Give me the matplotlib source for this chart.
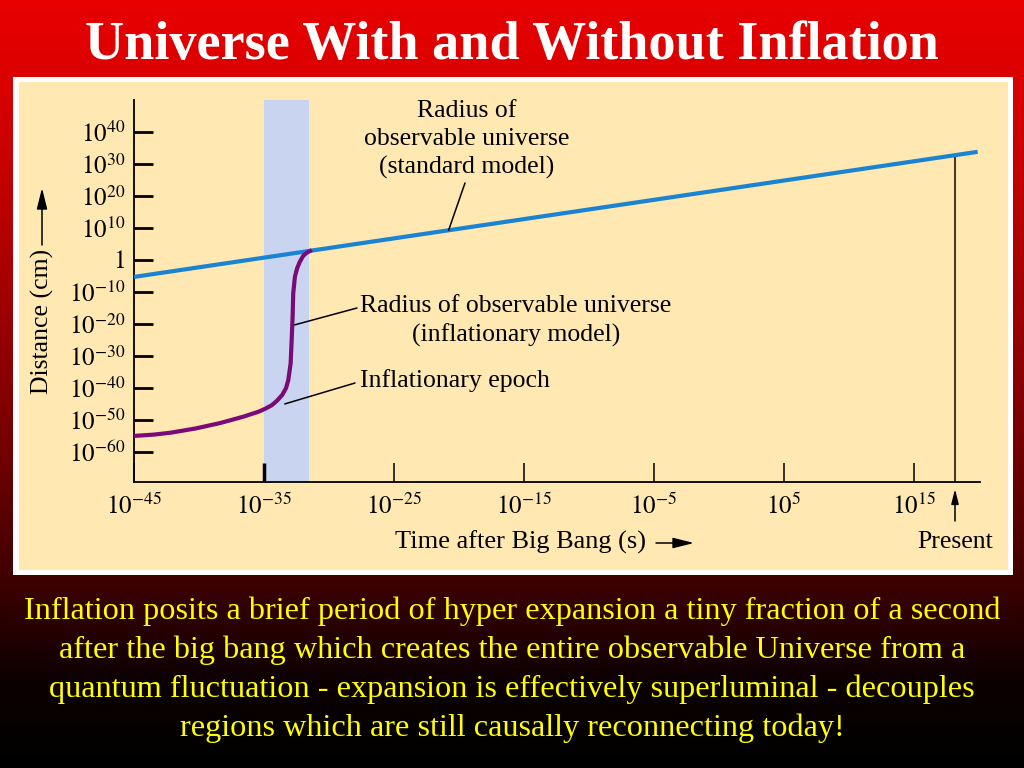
import numpy as np
import matplotlib
matplotlib.use("Agg")
import matplotlib.pyplot as plt
from matplotlib.patches import Rectangle, FancyArrowPatch

plt.rcParams['font.family'] = ['Liberation Serif', 'DejaVu Serif']
plt.rcParams['mathtext.fontset'] = 'stix'

# ---- data (log10 exponents) ----
std_t = [-45.0, 19.9]          # time exponent (s)
std_r = [-5.3, 33.8]           # radius exponent (cm)

infl_t = [-45.0, -43.5, -42.2, -40.3, -38.4, -36.6, -35.4, -34.9, -34.4, -34.0,
          -33.6, -33.3, -33.13, -32.95, -32.87, -32.79, -32.75, -32.62, -32.45,
          -32.25, -31.98, -31.7, -31.46]
infl_r = [-55.0, -54.6, -54.0, -52.7, -51.0, -49.0, -47.4, -46.5, -45.4, -44.0,
          -42.2, -40.0, -37.5, -32.3, -25.0, -16.7, -10.4, -5.2, -2.6,
          -0.6, 1.3, 2.3, 2.8]

epoch_t = [-35.0, -31.5]       # inflationary epoch band
present_t = 18.15

xtick_exp = [-45, -35, -25, -15, -5, 5, 15]
xtick_lab = ['$10^{-45}$', '$10^{-35}$', '$10^{-25}$', '$10^{-15}$',
             '$10^{-5}$', '$10^{5}$', '$10^{15}$']
ytick_exp = [40, 30, 20, 10, 0, -10, -20, -30, -40, -50, -60]
ytick_lab = ['$10^{40}$', '$10^{30}$', '$10^{20}$', '$10^{10}$', '$1$',
             '$10^{-10}$', '$10^{-20}$', '$10^{-30}$', '$10^{-40}$',
             '$10^{-50}$', '$10^{-60}$']

title = "Universe With and Without Inflation"
caption = ["Inflation posits a brief period of hyper expansion a tiny fraction of a second",
           "after the big bang which creates the entire observable Universe from a",
           "quantum fluctuation - expansion is effectively superluminal - decouples",
           "regions which are still causally reconnecting today!"]

W, H = 1024, 768
def px(x, y):
    return x / W, 1 - y / H

fig = plt.figure(figsize=(10.24, 7.68), dpi=100)

# background gradient red -> black
bg = fig.add_axes([0, 0, 1, 1], zorder=0)
rows = np.arange(H)
red = np.interp(rows, [0, 100, 250, 450, 580, 680, 768],
                [232, 215, 175, 115, 62, 12, 0]) / 255
grad = np.zeros((H, 2, 3))
grad[:, :, 0] = red[:, None]
bg.imshow(grad, aspect='auto', extent=[0, 1, 0, 1], origin='upper')
bg.axis('off')

# white framed cream panel
x0, y0 = px(13, 575)
fig.add_artist(Rectangle((x0, y0), 1000 / W, 498 / H, transform=fig.transFigure,
                         facecolor='white', edgecolor='none', zorder=1))
x0, y0 = px(19, 570)
fig.add_artist(Rectangle((x0, y0), 989 / W, 488 / H, transform=fig.transFigure,
                         facecolor='#FFE8B2', edgecolor='none', zorder=1))

fig.text(*px(512, 59), title, color='white', fontsize=39, fontweight='bold',
         ha='center', va='baseline')
for i, line in enumerate(caption):
    fig.text(*px(512, 611 + i * 39), line, color='#FFFF00', fontsize=23.2,
             ha='center', va='center')

# main axes
l, b = px(134, 482)
ax = fig.add_axes([l, b, 846 / W, 382 / H], zorder=2)
ax.patch.set_alpha(0)
ax.set_xscale('log')
ax.set_yscale('log')
ax.set_xlim(10.0 ** -45, 10.0 ** 20.08)
ax.set_ylim(10.0 ** -69.4, 10.0 ** 50)

ax.axvspan(10.0 ** epoch_t[0], 10.0 ** epoch_t[1], color='#C8D4F0', lw=0, zorder=1)
ax.plot(10.0 ** np.array(std_t), 10.0 ** np.array(std_r), color='#1A84D2', lw=3,
        solid_capstyle='butt', zorder=3)
ax.plot(10.0 ** np.array(infl_t), 10.0 ** np.array(infl_r), color='#7A0A78', lw=3,
        solid_joinstyle='round', zorder=3)

r_present = np.interp(present_t, std_t, std_r)
ax.plot([10.0 ** present_t] * 2, [10.0 ** -69.4, 10.0 ** r_present],
        color='#4A3A22', lw=1.5, zorder=2)

for s in ['top', 'right']:
    ax.spines[s].set_visible(False)
for s in ['left', 'bottom']:
    ax.spines[s].set_linewidth(1.3)

ax.set_xticks(10.0 ** np.array(xtick_exp, dtype=float))
ax.set_xticklabels(xtick_lab)
ax.set_yticks(10.0 ** np.array(ytick_exp, dtype=float))
ax.set_yticklabels(ytick_lab)
ax.minorticks_off()
ax.tick_params(axis='x', direction='in', length=13.5, width=1.1, labelsize=18, pad=8)
ax.tick_params(axis='y', direction='in', length=13.5, width=2.0, labelsize=18, pad=6.5)
ax.xaxis.get_major_ticks()[1].tick1line.set_markeredgewidth(2.5)

# annotations
fs = 18.5
line_kw = dict(arrowstyle='-', lw=1.1, color='black', shrinkA=0, shrinkB=0)
t_std = -20.8
ax.text(0.3936, 0.897, "Radius of\nobservable universe\n(standard model)",
        transform=ax.transAxes, ha='center', va='center', fontsize=fs,
        linespacing=1.35)
ax.annotate('', xy=(10.0 ** t_std, 10.0 ** np.interp(t_std, std_t, std_r)),
            xytext=((465 - 134) / 846, (482 - 183) / 382), textcoords='axes fraction',
            arrowprops=line_kw)

r_inf = -20.3
ax.text((516 - 134) / 846, (482 - 321) / 382,
        "Radius of observable universe\n(inflationary model)",
        transform=ax.transAxes, ha='center', va='center', fontsize=fs,
        multialignment='center', linespacing=1.35)
ax.annotate('', xy=(10.0 ** np.interp(r_inf, infl_r, infl_t) * 1.5, 10.0 ** r_inf),
            xytext=((357 - 134) / 846, (482 - 308) / 382), textcoords='axes fraction',
            arrowprops=line_kw)

ax.text((360 - 134) / 846, (482 - 381) / 382, "Inflationary epoch",
        transform=ax.transAxes, ha='left', va='center', fontsize=fs)
ax.annotate('', xy=(10.0 ** -33.4, 10.0 ** -45.0),
            xytext=((355 - 134) / 846, (482 - 383) / 382), textcoords='axes fraction',
            arrowprops=line_kw)

# axis labels with arrows
fig.text(*px(395, 542), "Time after Big Bang (s)", fontsize=19, ha='left', va='center')
fig.text(*px(42, 321), "Distance (cm)", fontsize=18.5, rotation=90, ha='center', va='center')
fig.text(*px(955, 542), "Present", fontsize=18.5, ha='center', va='center')

arrow_kw = dict(arrowstyle='-|>,head_length=0.8,head_width=0.2', color='black', lw=1.1,
                shrinkA=0, shrinkB=0, mutation_scale=16)
fig.add_artist(FancyArrowPatch(px(656, 543), px(694, 543),
               transform=fig.transFigure, **arrow_kw))
fig.add_artist(FancyArrowPatch(px(42, 245), px(42, 188),
               transform=fig.transFigure, **arrow_kw))
fig.add_artist(FancyArrowPatch(px(955, 521), px(955, 489),
               transform=fig.transFigure, **dict(arrow_kw, mutation_scale=11)))

fig.savefig('out.png', dpi=100)
